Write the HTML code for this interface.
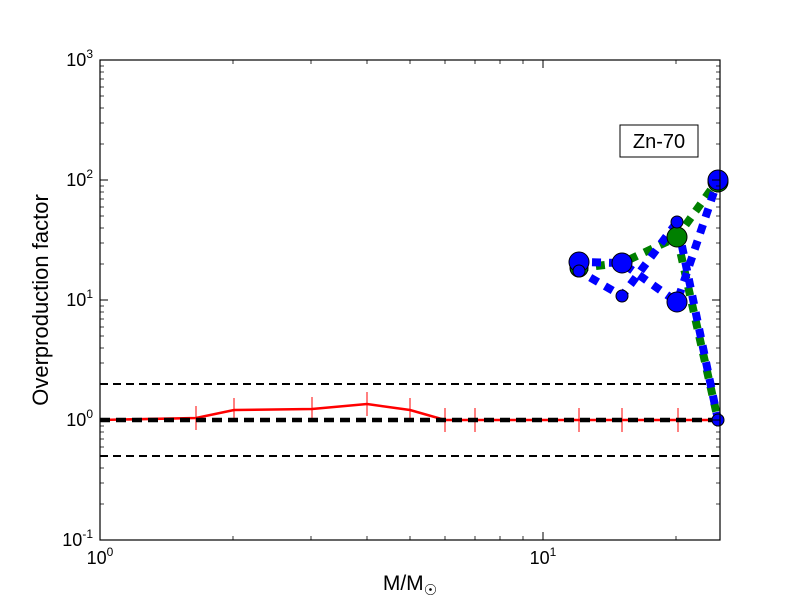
<!DOCTYPE html><html><head><style>body{margin:0;background:#fff}svg{display:block}text{font-family:"Liberation Sans",sans-serif}</style></head><body>
<svg width="800" height="600" viewBox="0 0 800 600">
<rect width="800" height="600" fill="#fff"/>
<g stroke="#000" stroke-dasharray="8,5">
<line x1="100" y1="384" x2="720" y2="384" stroke-width="2"/>
<line x1="100" y1="456" x2="720" y2="456" stroke-width="2"/>
</g>
<polyline points="100,420 196,418 234,410 312,409 367,404 410,410 445,420 475,420 579,420 622,420 678,420 720,420" fill="none" stroke="red" stroke-width="2.5"/>
<g stroke="red" stroke-width="1">
<line x1="196" y1="406" x2="196" y2="430"/><line x1="234" y1="398" x2="234" y2="422"/><line x1="312" y1="397" x2="312" y2="421"/><line x1="367" y1="392" x2="367" y2="416"/><line x1="410" y1="398" x2="410" y2="422"/><line x1="445" y1="408" x2="445" y2="432"/><line x1="475" y1="408" x2="475" y2="432"/><line x1="579" y1="408" x2="579" y2="432"/><line x1="622" y1="408" x2="622" y2="432"/><line x1="678" y1="408" x2="678" y2="432"/>
</g>
<line x1="100" y1="420" x2="720" y2="420" stroke="#000" stroke-width="4.5" stroke-dasharray="10,6"/>
<g fill="none" stroke-width="8" stroke-dasharray="9,8">
<polyline points="579,268 622,263 677,237 718,180" stroke="green"/>
<polyline points="677,237 718,420" stroke="green"/>
<polyline points="579,262 622,263 677,302 718,180" stroke="blue" stroke-dashoffset="4"/>
<polyline points="579,271 622,296 677,222 718,420" stroke="blue" stroke-dashoffset="4"/>
</g>
<g stroke="#000" stroke-width="1">
<circle cx="579" cy="268" r="9" fill="green"/><circle cx="677" cy="237" r="10" fill="green"/><circle cx="718" cy="182" r="10" fill="green"/>
<circle cx="579" cy="262" r="10" fill="blue"/><circle cx="622" cy="263" r="10" fill="blue"/><circle cx="677" cy="302" r="10" fill="blue"/><circle cx="718" cy="180" r="10" fill="blue"/>
<circle cx="579" cy="271" r="6" fill="blue"/><circle cx="622" cy="296" r="6" fill="blue"/><circle cx="677" cy="222" r="6" fill="blue"/><circle cx="718" cy="420" r="6" fill="blue"/>
</g>
<rect x="620" y="125" width="78" height="32" fill="#fff" stroke="#000"/>
<text x="659" y="148" font-size="20" text-anchor="middle">Zn-70</text>
<rect x="100" y="60" width="620" height="480" fill="none" stroke="#000" stroke-width="1.2"/>
<g stroke="#000" id="tk">
<line x1="100" y1="180" x2="108" y2="180"/><line x1="100" y1="300" x2="108" y2="300"/><line x1="100" y1="420" x2="108" y2="420"/>
<line x1="720" y1="180" x2="712" y2="180"/><line x1="720" y1="300" x2="712" y2="300"/><line x1="720" y1="420" x2="712" y2="420"/>
<line x1="543" y1="540" x2="543" y2="532"/><line x1="543" y1="60" x2="543" y2="68"/>
</g>
<g stroke="#000" stroke-width="0.8">
<path d="M100,504h4M100,483h4M100,468h4M100,456h4M100,447h4M100,439h4M100,432h4M100,426h4M100,384h4M100,363h4M100,348h4M100,336h4M100,327h4M100,319h4M100,312h4M100,306h4M100,264h4M100,243h4M100,228h4M100,216h4M100,207h4M100,199h4M100,192h4M100,186h4M100,144h4M100,123h4M100,108h4M100,96h4M100,87h4M100,79h4M100,72h4M100,66h4"/>
<path d="M720,504h-4M720,483h-4M720,468h-4M720,456h-4M720,447h-4M720,439h-4M720,432h-4M720,426h-4M720,384h-4M720,363h-4M720,348h-4M720,336h-4M720,327h-4M720,319h-4M720,312h-4M720,306h-4M720,264h-4M720,243h-4M720,228h-4M720,216h-4M720,207h-4M720,199h-4M720,192h-4M720,186h-4M720,144h-4M720,123h-4M720,108h-4M720,96h-4M720,87h-4M720,79h-4M720,72h-4M720,66h-4"/>
<path d="M233,540v-4M311,540v-4M367,540v-4M410,540v-4M445,540v-4M475,540v-4M500,540v-4M523,540v-4M676,540v-4M233,60v4M311,60v4M367,60v4M410,60v4M445,60v4M475,60v4M500,60v4M523,60v4M676,60v4"/>
</g>
<g font-size="18" text-anchor="end">
<text x="93" y="66">10<tspan font-size="12" dy="-8">3</tspan></text>
<text x="93" y="186">10<tspan font-size="12" dy="-8">2</tspan></text>
<text x="93" y="306">10<tspan font-size="12" dy="-8">1</tspan></text>
<text x="93" y="426">10<tspan font-size="12" dy="-8">0</tspan></text>
<text x="93" y="546">10<tspan font-size="12" dy="-8">-1</tspan></text>
</g>
<g font-size="18" text-anchor="middle">
<text x="100" y="564">10<tspan font-size="12" dy="-8">0</tspan></text>
<text x="543" y="564">10<tspan font-size="12" dy="-8">1</tspan></text>
</g>
<text x="410" y="590" font-size="21" text-anchor="middle">M/M<tspan font-size="15" dy="5">☉</tspan></text>
<text transform="translate(48,300) rotate(-90)" font-size="22" text-anchor="middle">Overproduction factor</text>
</svg></body></html>
